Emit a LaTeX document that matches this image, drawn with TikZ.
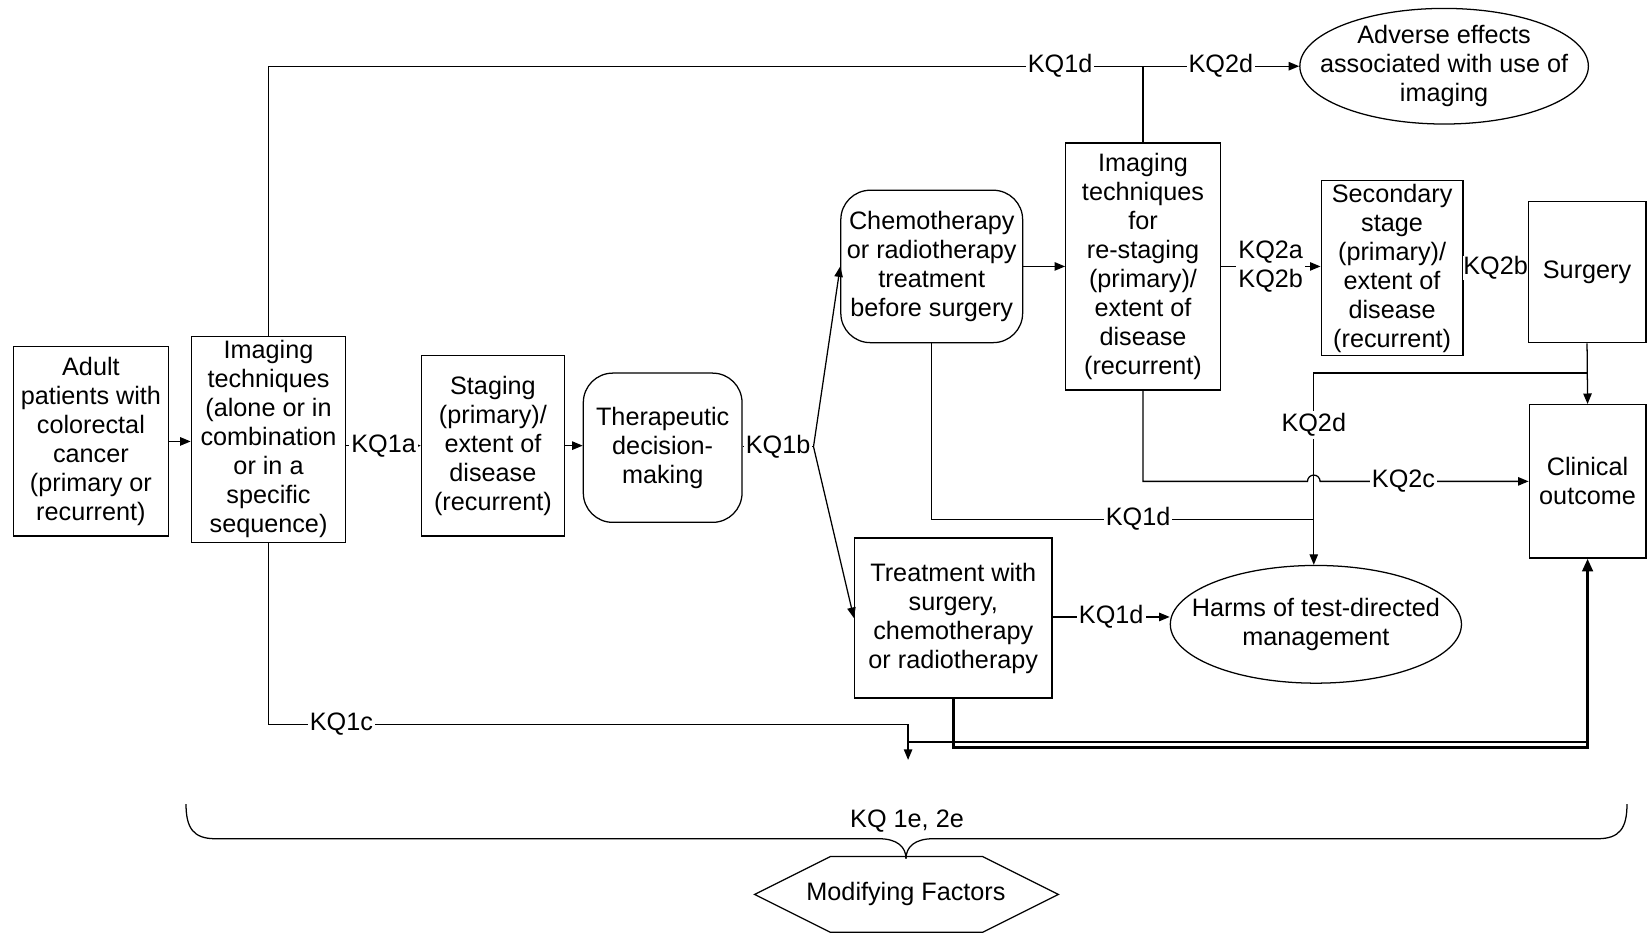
\documentclass[tikz,border=0pt]{standalone}
\usepackage{fontspec}
\setmainfont{Liberation Sans}
\usetikzlibrary{arrows.meta,shapes.geometric}
\tikzset{every picture/.style={line width=0.6pt}}
\begin{document}
\begin{tikzpicture}[x=0.5pt,y=0.5pt,yscale=-1,xscale=1,
	every node/.style={font=\fontsize{12pt}{13.8pt}\selectfont},
	box/.style={draw, align=center, inner sep=0pt},
	rbox/.style={box, rounded corners=14pt},
	oval/.style={draw, ellipse, align=center, inner ysep=0pt, inner xsep=-10.5pt},
	kq/.style={fill=white, inner sep=1pt, align=center},
	arr/.style={-{Triangle[length=5pt,width=4pt]}},
	heavyarr/.style={line width=1.3pt, -{Triangle[length=6pt,width=5pt]}}]
	\useasboundingbox (0,0) rectangle (1568,888);

	% Boxes
	\node[box, minimum width=73.5pt, minimum height=90pt] (adult) at (86.5,420) {Adult\\patients with\\colorectal\\cancer\\(primary or\\recurrent)};
	\node[box, minimum width=73.5pt, minimum height=98pt] (img1) at (255.5,418) {Imaging\\techniques\\(alone or in\\combination\\or in a\\specific\\sequence)};
	\node[box, minimum width=68pt, minimum height=86pt] (stag) at (469,424) {Staging\\(primary)/\\extent of\\disease\\(recurrent)};
	\node[rbox, minimum width=75.5pt, minimum height=71pt] (ther) at (630.5,426) {Therapeutic\\decision-\\making};
	\node[rbox, minimum width=86.5pt, minimum height=72.5pt] (chemo) at (886.5,253.5) {Chemotherapy\\or radiotherapy\\treatment\\before surgery};
	\node[box, minimum width=73.5pt, minimum height=117.5pt] (img2) at (1087.5,253.5) {Imaging\\techniques\\for\\re-staging\\(primary)/\\extent of\\disease\\(recurrent)};
	\node[box, minimum width=67.5pt, minimum height=83pt] (sec) at (1324.5,255) {Secondary\\stage\\(primary)/\\extent of\\disease\\(recurrent)};
	\node[box, minimum width=56pt, minimum height=67pt] (surg) at (1510,259) {Surgery};
	\node[box, minimum width=55.5pt, minimum height=73pt] (clin) at (1510.5,458) {Clinical\\outcome};
	\node[box, minimum width=94pt, minimum height=76pt] (treat) at (907,588) {Treatment with\\surgery,\\chemotherapy\\or radiotherapy};
	\node[oval, minimum width=138.5pt, minimum height=56pt] (harm) at (1252,594) {Harms of test-directed\\management};
	\node[oval, minimum width=137pt, minimum height=55pt] (adv) at (1374,63) {Adverse effects\\associated with use of\\imaging};

	% Free ends and corners
	\coordinate (fork) at (774,425);
	\coordinate (j2) at (1250,355);
	\coordinate (j3) at (1250,494);
	\coordinate (hopL) at (1244,458);
	\coordinate (c1) at (864,689);
	\coordinate (c1end) at (864,723);
	\coordinate (c2) at (864,706);
	\coordinate (c3) at (1510.5,711);

	% Main chain
	\draw[arr] (adult.east) -- (adult.east -| img1.west);
	\draw[arr] (img1.east |- stag.west) -- node[kq]{KQ1a} (stag.west);
	\draw[arr] (stag.east) -- (stag.east -| ther.west);
	\draw (ther.east |- fork) -- node[kq]{KQ1b} (fork);
	\draw[arr] (fork) -- (chemo.west);
	\draw[arr] (fork) -- (treat.west);
	\draw[arr] (chemo.east) -- (chemo.east -| img2.west);
	\draw[arr] (img2.east) -- node[kq]{KQ2a\\KQ2b} (img2.east -| sec.west);
	\draw (sec.east) -- node[kq, inner sep=0pt]{KQ2b} (sec.east -| surg.west);
	\draw[arr] (surg.south) -- (clin.north);

	% Top line
	\draw[arr] (img1.north) |- node[kq, pos=0.884]{KQ1d} node[kq, pos=0.962]{KQ2d} (adv.west);
	\draw (img2.north) -- (img2.north |- adv.west);

	% Harms and outcomes
	\draw[arr] (surg.south |- j2) -- (j2) -- node[kq, pos=0.27]{KQ2d} (j2 |- harm.north);
	\draw (chemo.south) |- node[kq, pos=0.77]{KQ1d} (j3);
	\draw[arr] (img2.south) |- (hopL) arc[start angle=180, end angle=360, radius=6] -- node[kq, pos=0.4]{KQ2c} (hopL -| clin.west);
	\draw[arr] (treat.east |- 0,587) -- node[kq]{KQ1d} (harm.west |- 0,587);

	% Bottom lines
	\draw[arr] (img1.south) |- node[kq, pos=0.557]{KQ1c} (c1) -- (c1end);
	\draw (c2) -- (c2 -| c3);
	\draw[heavyarr] (treat.south) |- (c3) -- (clin.south);

	% Brace
	\draw (177,765) .. controls (177,788) and (184,798) .. (205,798) -- (836,798) .. controls (854,798) and (862,806) .. (862,817);
	\draw (1548,765) .. controls (1548,788) and (1541,798) .. (1520,798) -- (888,798) .. controls (870,798) and (862,806) .. (862,817);
	\node (kqe) at (863,781) {KQ 1e, 2e};

	% Modifying factors
	\node (mod) at (862,851) {Modifying Factors};
	\draw[shift={(mod.center)}] (-144,0) -- (-72,-36) -- (73,-36) -- (145,0) -- (73,36) -- (-72,36) -- cycle;

\end{tikzpicture}
\end{document}
